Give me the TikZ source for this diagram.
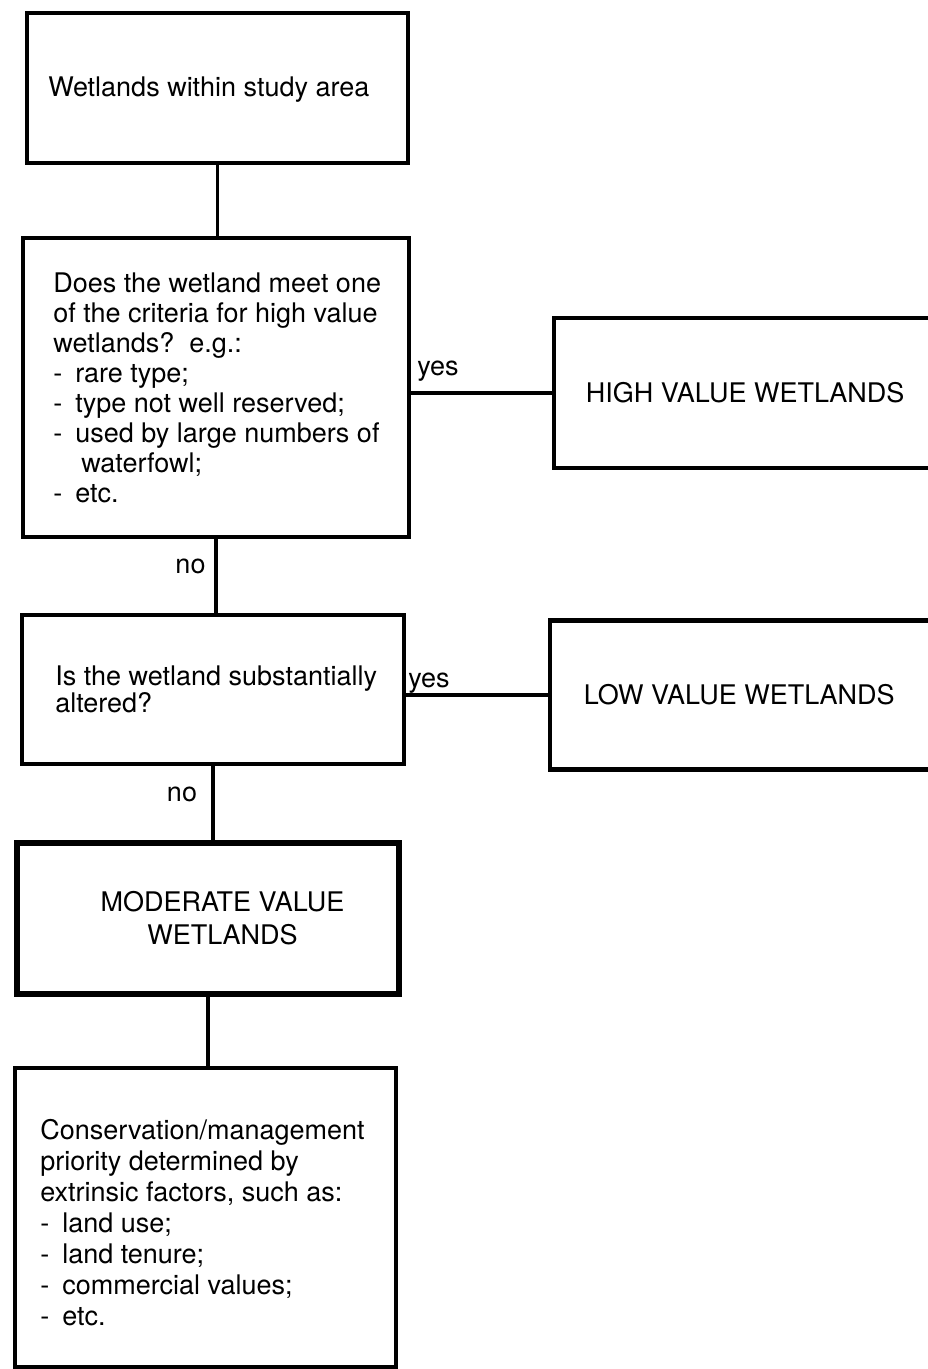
\documentclass[tikz,border=0pt]{standalone}
\usepackage{fontspec}
\setmainfont{TeX Gyre Heros}
\newcommand{\dashitem}{\makebox[22pt][l]{-}}

\begin{document}
\begin{tikzpicture}[x=1pt, y=-1pt,
  every node/.style={font=\fontsize{27}{30}\selectfont},
  box/.style={draw, line width=3.8pt, inner sep=0pt},
  boxtext/.style={anchor=west, align=left, inner sep=0pt},
  branch/.style={inner sep=0pt},
  link/.style={line width=3.2pt}]

\clip (0,0) rectangle (928,1369);

% boxes
\node[box, minimum width=381pt, minimum height=150pt] (study) at (217.5,88) {};
\node[box, minimum width=386pt, minimum height=299pt] (criteria) at (216,387.5) {};
\node[box, line width=4.8pt, minimum width=396pt, minimum height=150pt] (high) at (752,393) {};
\node[box, minimum width=382pt, minimum height=149pt] (altered) at (213,689.5) {};
\node[box, line width=4.8pt, minimum width=400pt, minimum height=149pt] (low) at (750,695) {};
\node[box, line width=5.8pt, minimum width=382pt, minimum height=151pt] (moderate) at (208,918.5) {};
\node[box, minimum width=381pt, minimum height=299pt] (cons) at (205.5,1217.5) {};

% texts
\node[boxtext] (studytext) at ([xshift=23pt, yshift=-2pt]study.west) {Wetlands within study area};
\node[boxtext] (criteriatext) at ([xshift=32pt]criteria.west)
  {Does the wetland meet one\\
   of the criteria for high value\\
   wetlands?\ \ e.g.:\\
   \dashitem rare type;\\
   \dashitem type not well reserved;\\
   \dashitem used by large numbers of\\
   \hspace*{28pt}waterfowl;\\
   \dashitem etc.};
\node[boxtext] (hightext) at ([xshift=34pt]high.west) {HIGH VALUE WETLANDS};
\node[boxtext, font=\fontsize{27}{25}\selectfont] (alteredtext) at ([xshift=35pt]altered.west)
  {Is the wetland substantially\\altered?};
\node[boxtext] (lowtext) at ([xshift=36pt]low.west) {LOW VALUE WETLANDS};
\node[align=center, inner sep=0pt, font=\fontsize{27}{33}\selectfont] (moderatetext)
  at ([xshift=14.5pt]moderate.center) {MODERATE VALUE\\WETLANDS};
\node[boxtext, font=\fontsize{27}{31}\selectfont] (constext) at ([xshift=27pt, yshift=-5pt]cons.west)
  {Conservation/management\\
   priority determined by\\
   extrinsic factors, such as:\\
   \dashitem land use;\\
   \dashitem land tenure;\\
   \dashitem commercial values;\\
   \dashitem etc.};

% connectors
\draw[link] (study.south) -- (study.south |- criteria.north);
\draw[link] (criteria.east |- high.west) -- (high.west);
\draw[link] (criteria.south) -- (criteria.south |- altered.north);
\draw[link] (altered.east |- low.west) -- (low.west);
\draw[link] (altered.south) -- (altered.south |- moderate.north);
\draw[link] (moderate.south) -- (moderate.south |- cons.north);

% branch labels
\node[branch] (yeshigh) at (438,371) {yes};
\node[branch] (nocriteria) at (190.5,566) {no};
\node[branch] (yeslow) at (429,683) {yes};
\node[branch] (noaltered) at (182,794) {no};
\end{tikzpicture}
\end{document}
